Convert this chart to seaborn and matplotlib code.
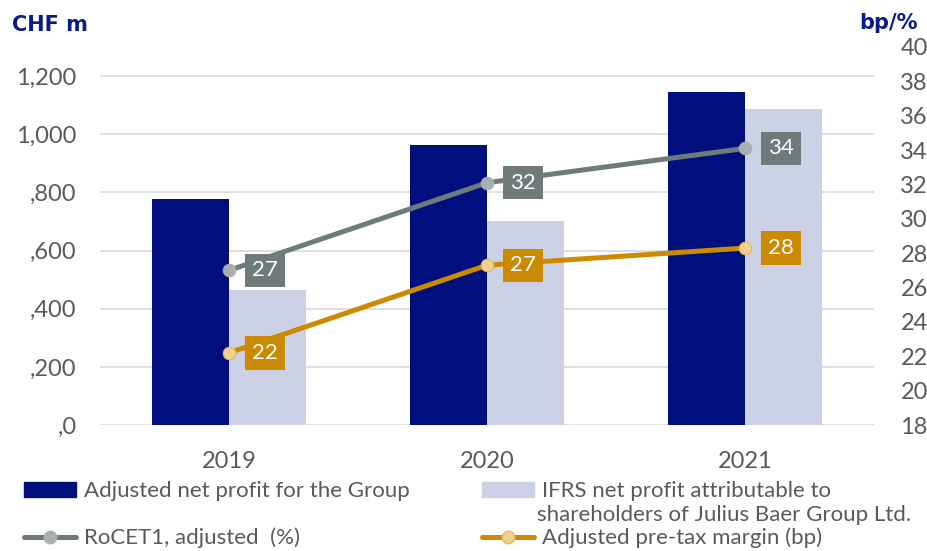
import numpy as np
import pandas as pd
import seaborn as sns
import matplotlib.pyplot as plt
from matplotlib.patches import Patch
from matplotlib.lines import Line2D
from matplotlib.ticker import FuncFormatter

# data
years = ['2019', '2020', '2021']
adj_net_profit = [776, 962, 1145]
ifrs_net_profit = [465, 703, 1086]
rocet1 = [27.0, 32.1, 34.1]
pretax_margin = [22.2, 27.3, 28.3]
rocet1_labels = ['27', '32', '34']
margin_labels = ['22', '27', '28']
left_ticks = [0, 200, 400, 600, 800, 1000, 1200]
right_ticks = list(range(18, 41, 2))

bar_names = ['Adjusted net profit for the Group', 'IFRS net profit attributable to']
bar_name_2nd_line = 'shareholders of Julius Baer Group Ltd.'
line_names = ['RoCET1, adjusted  (%)', 'Adjusted pre-tax margin (bp)']

NAVY = '#000F7E'
LIGHT = '#CCD1E6'
GREY = '#6F7B7A'
GREY_MK = '#A9AEB1'
ORANGE = '#CC8A00'
ORANGE_MK = '#EFD08F'
TXT = '#595959'
TITLE = '#0A1A8A'

sns.set_theme(style='white')
plt.rcParams['font.family'] = ['Lato', 'DejaVu Sans']

df = pd.DataFrame({
    'year': years * 2,
    'value': adj_net_profit + ifrs_net_profit,
    'series': ['adj'] * 3 + ['ifrs'] * 3,
})

fig = plt.figure(figsize=(9.28, 5.51), dpi=100)
ax = fig.add_axes([100 / 928, 1 - 425 / 551, 774 / 928, 378 / 551])

sns.barplot(data=df, x='year', y='value', hue='series', palette=[NAVY, LIGHT],
            width=0.6, saturation=1, linewidth=0, legend=False, ax=ax)
ax.set_xlim(-0.5, 2.5)
ax.set_ylim(0, 1300)
ax.set_yticks(left_ticks)
ax.yaxis.set_major_formatter(FuncFormatter(
    lambda v, p: f'{v:,.0f}' if v >= 1000 else ',' + f'{v:.0f}'))
ax.yaxis.grid(True, color='#D9D9D9', lw=1.2)
ax.set_axisbelow(True)
ax.set_xlabel('')
ax.set_ylabel('')
for s in ax.spines.values():
    s.set_visible(False)
ax.tick_params(axis='y', length=0, pad=17, labelsize=17, labelcolor=TXT)
ax.tick_params(axis='x', length=0, pad=19, labelsize=17, labelcolor=TXT)

ax2 = ax.twinx()
x = np.arange(len(years))
sns.lineplot(x=x, y=rocet1, color=GREY, lw=3.6, marker='o', markersize=9,
             markerfacecolor=GREY_MK, markeredgecolor=GREY_MK, ax=ax2)
sns.lineplot(x=x, y=pretax_margin, color=ORANGE, lw=3.6, marker='o', markersize=9,
             markerfacecolor=ORANGE_MK, markeredgecolor='#E6BA5E', ax=ax2)
ax2.set_ylim(18, 40)
ax2.set_yticks(right_ticks)
for s in ax2.spines.values():
    s.set_visible(False)
ax2.tick_params(axis='y', length=0, pad=19, labelsize=17, labelcolor=TXT)
ax2.set_xlim(-0.5, 2.5)

for vals, labs, col in [(rocet1, rocet1_labels, GREY), (pretax_margin, margin_labels, ORANGE)]:
    for i, (v, lab) in enumerate(zip(vals, labs)):
        ax2.annotate(lab, (i, v), xytext=(36, 0), textcoords='offset pixels',
                     ha='center', va='center', color='white', fontsize=16,
                     bbox=dict(boxstyle='square,pad=0.3', fc=col, ec='none'))

fig.text(12 / 928, 1 - 25 / 551, 'CHF m', family='DejaVu Sans', weight='bold',
         fontsize=15, color=TITLE, ha='left', va='center')
fig.text(918 / 928, 1 - 23 / 551, 'bp/%', family='DejaVu Sans', weight='bold',
         fontsize=15, color=TITLE, ha='right', va='center')

# legend, one entry each so the rows line up like the reference
leg_kw = dict(frameon=False, fontsize=16, borderpad=0, borderaxespad=0,
              handlelength=2.35, handleheight=0.65, handletextpad=0.35,
              loc='center left', labelcolor=TXT)
entries = [
    (Patch(color=NAVY), bar_names[0], 24, 491),
    (Patch(color=LIGHT), bar_names[1], 482, 491),
    (Line2D([], [], color=GREY, lw=3.6, marker='o', markersize=9,
            markerfacecolor=GREY_MK, markeredgecolor=GREY_MK), line_names[0], 24, 538),
    (Line2D([], [], color=ORANGE, lw=3.6, marker='o', markersize=9,
            markerfacecolor=ORANGE_MK, markeredgecolor='#E6BA5E'), line_names[1], 482, 538),
]
for h, lab, px, py in entries:
    fig.legend([h], [lab], bbox_to_anchor=(px / 928, 1 - py / 551), numpoints=1, **leg_kw)
fig.text(537 / 928, 1 - 515 / 551, bar_name_2nd_line, fontsize=16, color=TXT,
         ha='left', va='center')

fig.savefig('out.png', dpi=100)
